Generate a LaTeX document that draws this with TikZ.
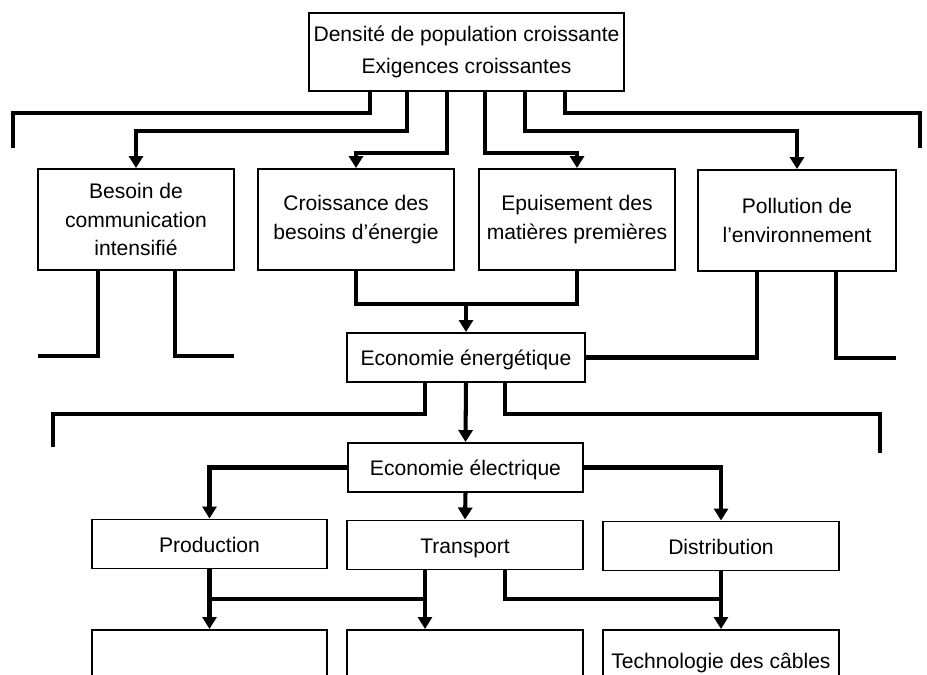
\documentclass[tikz,border=0pt]{standalone}
\usepackage{fontspec}
\setmainfont{Liberation Sans}
\usepackage{tikz}
\usetikzlibrary{arrows.meta,calc,positioning}

\begin{document}
\begin{tikzpicture}[
    x=0.02cm, y=-0.02cm,
    every node/.style={font=\fontsize{12}{16}\selectfont},
    frame/.style={rectangle, draw=black, line width=1.1pt, align=center, inner sep=2pt},
    box/.style={frame, minimum width=4.72cm, minimum height=0.98cm, text height=11pt, text depth=1.5pt},
    tallbox/.style={frame, minimum width=3.92cm, minimum height=2.02cm},
    link/.style={line width=2.3pt},
    arrow/.style={link, -{Triangle[length=0.24cm, width=0.28cm]}}
]
    \useasboundingbox (0,0) rectangle (927,675);
    \clip (0,0) rectangle (927,675);

    % Top
    \node[frame, minimum width=6.3cm, minimum height=1.56cm, font=\fontsize{12}{18}\selectfont] (dens) at (466.5,52) {Densit\'e de population croissante\\Exigences croissantes};

    % Needs and limits
    \node[tallbox] (besoin) at (136,219.5) {Besoin de\\communication\\intensifi\'e};
    \node[tallbox] (croiss) at (356,219.5) {Croissance des\\besoins d'\'energie};
    \node[tallbox] (epuis) at (577,219.5) {Epuisement des\\mati\`eres premi\`eres};
    \node[tallbox, minimum width=3.96cm] (pollu) at (797,220.5) {Pollution de\\l'environnement};

    % Economy
    \node[box, minimum width=4.76cm] (energ) at (466,357.5) {Economie \'energ\'etique};
    \node[box, minimum width=4.7cm] (elec) at (465.5,467.5) {Economie \'electrique};

    % Branches
    \node[box, minimum width=4.7cm] (prod) at (209.5,544) {Production};
    \node[box] (transp) at (465,545) {Transport};
    \node[box] (distr) at (721,546) {Distribution};

    % Lower boxes (cut at the page edge)
    \node[box, minimum width=4.7cm, minimum height=1.2cm, anchor=north] (cab1) at (209.5,629) {};
    \node[box, minimum height=1.2cm, anchor=north] (cab2) at (465,629) {};
    \node[box, minimum height=1.2cm, anchor=north] (cab3) at (721,629) {Technologie des c\^ables};

    % Open ends
    \coordinate (endA) at (13,148);
    \coordinate (endB) at (920,148);
    \coordinate (endC) at (38,356);
    \coordinate (endD) at (234,356);
    \coordinate (endE) at (896,358);
    \coordinate (endF) at (53,447);
    \coordinate (endG) at (880,453);

    % From the top box
    \draw[link] ([xshift=-1.93cm]dens.south) -- ++(0,21) -| (endA);
    \draw[arrow] ([xshift=-1.19cm]dens.south) -- ++(0,39) -| (besoin.north);
    \draw[arrow] ([xshift=-0.39cm]dens.south) -- ++(0,61) -| (croiss.north);
    \draw[arrow] ([xshift=0.37cm]dens.south) -- ++(0,61) -| (epuis.north);
    \draw[arrow] ([xshift=1.17cm]dens.south) -- ++(0,39) -| (pollu.north);
    \draw[link] ([xshift=1.97cm]dens.south) -- ++(0,21) -| (endB);

    % Row below
    \draw[link] ([xshift=-0.76cm]besoin.south) |- (endC);
    \draw[link] ([xshift=0.78cm]besoin.south) |- (endD);
    \draw[link] (croiss.south) -- ++(0,33) -| (epuis.south);
    \coordinate (join1) at ($(croiss.south)!0.5!(epuis.south)+(0,33)$);
    \draw[arrow] (energ.north |- join1) -- (energ.north);
    \draw[link] ([xshift=-0.8cm]pollu.south) |- (energ.east);
    \draw[link] ([xshift=0.78cm]pollu.south) |- (endE);

    % Energy economy
    \draw[link] ([xshift=-0.82cm]energ.south) -- ++(0,31) -| (endF);
    \draw[arrow] (energ.south) -- (elec.north);
    \draw[link] ([xshift=0.78cm]energ.south) -- ++(0,31) -| (endG);

    % Electrical economy
    \draw[arrow] (elec.west) -| (prod.north);
    \draw[arrow] (elec.south) -- (transp.north);
    \draw[arrow] (elec.east) -| (distr.north);

    % Lower level
    \draw[link] ([xshift=-0.8cm]transp.south) -- ++(0,29) -| (prod.south);
    \draw[arrow] (prod.south) -- (cab1.north);
    \draw[arrow] ([xshift=-0.8cm]transp.south) -- ([xshift=-0.8cm]cab2.north);
    \draw[link] ([xshift=0.8cm]transp.south) -- ++(0,29) -| (distr.south);
    \draw[arrow] (distr.south) -- (cab3.north);
\end{tikzpicture}
\end{document}
